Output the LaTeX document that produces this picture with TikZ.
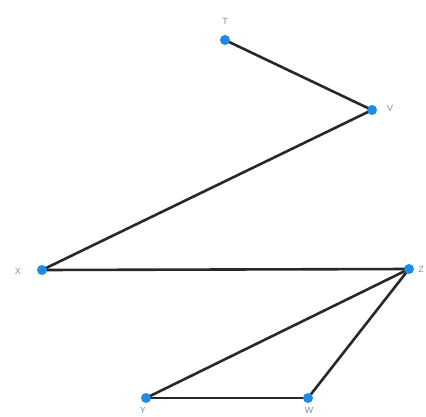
\documentclass[tikz,border=0pt]{standalone}
\usepackage{fontspec}
\setmainfont{Liberation Sans}
\definecolor{dotblue}{RGB}{30,140,230}
\definecolor{edgegray}{RGB}{40,40,40}
\definecolor{labgray}{RGB}{120,145,175}
\begin{document}
\begin{tikzpicture}[x=1pt,y=-1pt,
  pt/.style={circle,fill=dotblue,inner sep=0pt,minimum size=10pt},
  lab/.style={text=labgray,font=\fontsize{9}{9}\selectfont,inner sep=0pt},
  edge/.style={draw=edgegray,line width=2.6pt}]
\useasboundingbox (0,0) rectangle (426,416);
\coordinate (T) at (225,40);
\coordinate (V) at (372,110);
\coordinate (X) at (42,270);
\coordinate (Z) at (409,269);
\coordinate (Y) at (146,398);
\coordinate (W) at (308,398);
\draw[edge] (T) -- (V);
\draw[edge] (V) -- (X);
\draw[edge] (X) -- (Z);
\draw[edge] (Z) -- (Y);
\draw[edge] (Z) -- (W);
\draw[edge] (Y) -- (W);
\foreach \p in {T,V,X,Z,Y,W} \node[pt] (n\p) at (\p) {};
\node[lab] (lT) at (225,21) {T};
\node[lab] (lV) at (390,108) {V};
\node[lab] (lX) at (18,271) {X};
\node[lab] (lZ) at (421,269) {Z};
\node[lab] (lY) at (143,410) {Y};
\node[lab] (lW) at (309,410) {W};
\end{tikzpicture}
\end{document}
